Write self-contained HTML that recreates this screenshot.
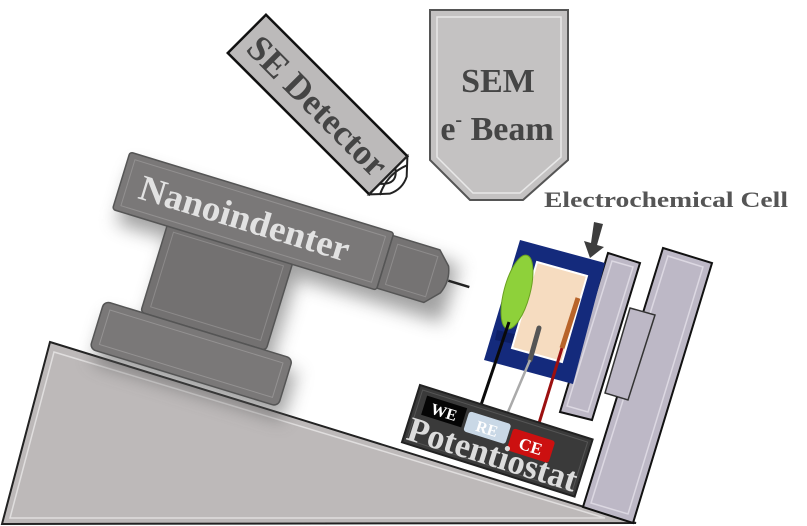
<!DOCTYPE html>
<html><head><meta charset="utf-8"><style>
html,body{margin:0;padding:0;background:#fff;width:807px;height:526px;overflow:hidden}
svg{display:block}
text{font-family:"Liberation Serif",serif;font-weight:bold}
</style></head><body>
<svg width="807" height="526" viewBox="0 0 807 526" xmlns="http://www.w3.org/2000/svg">
<defs>
<filter id="sh" x="-30%" y="-30%" width="160%" height="160%"><feGaussianBlur stdDeviation="9"/></filter>
</defs>
<!-- base -->
<polygon points="50,342 636,523 2,524" fill="#bdb9b9" stroke="#222" stroke-width="2"/>
<polygon points="54,352 605,518 10,518" fill="none" stroke="#e0dede" stroke-width="1.5"/>

<!-- SE detector -->
<g transform="translate(319,106) rotate(45)">
<rect x="-102" y="-27" width="200" height="54" fill="#bcbaba" stroke="#111" stroke-width="2.5"/>
<path d="M98,-27 L112,-12 Q118,0 112,12 L98,27 Z" fill="#fff" stroke="#222" stroke-width="2"/>
<path d="M98,-10 Q112,0 98,12 M104,-20 Q96,0 106,20" fill="none" stroke="#222" stroke-width="2"/>
<text x="-92" y="13" font-size="36" fill="#444" textLength="182" lengthAdjust="spacingAndGlyphs">SE Detector</text>
</g>

<!-- SEM -->
<polygon points="430,10 568,10 568,160 523,200 470,200 430,160" fill="#c4c2c2" stroke="#555" stroke-width="2"/>
<polygon points="437,17 561,17 561,157 520,193 473,193 437,157" fill="none" stroke="#e8e8e8" stroke-width="1.5"/>
<text x="498" y="92" text-anchor="middle" font-size="34" fill="#454545">SEM</text>
<text x="497" y="140" text-anchor="middle" font-size="34" fill="#454545">e<tspan font-size="20" dy="-14">-</tspan><tspan dy="14"> Beam</tspan></text>

<!-- nanoindenter -->
<g transform="translate(130,152) rotate(17)">
<g filter="url(#sh)" opacity="0.55" transform="translate(8,12)">
<rect x="0" y="0" width="340" height="60" fill="#555"/>
<rect x="57" y="60" width="131" height="90" fill="#555"/>
<rect x="18" y="150" width="198" height="50" fill="#555"/>
</g>
<rect x="57" y="56" width="131" height="94" rx="4" fill="#737171" stroke="#555" stroke-width="1.5"/>
<rect x="65" y="64" width="115" height="78" fill="none" stroke="#8c8a8a" stroke-width="1"/>
<rect x="19" y="150" width="197" height="50" rx="6" fill="#7a7878" stroke="#555" stroke-width="1.5"/>
<rect x="27" y="157" width="181" height="36" fill="none" stroke="#949292" stroke-width="1"/>
<rect x="0" y="0" width="276" height="60" rx="3" fill="#7a7878" stroke="#555" stroke-width="1.5"/>
<rect x="7" y="6" width="262" height="48" fill="none" stroke="#929090" stroke-width="1"/>
<path d="M276,3 L325,3 L338,16 Q344,30 338,44 L325,58 L276,58 Z" fill="#757373" stroke="#555" stroke-width="1.5"/>
<rect x="283" y="10" width="42" height="42" fill="none" stroke="#8e8c8c"/>
<line x1="342" y1="30" x2="364" y2="30" stroke="#222" stroke-width="2.5"/>
<text x="20" y="42" font-size="36" fill="#e2e2e2" textLength="218" lengthAdjust="spacingAndGlyphs">Nanoindenter</text>
</g>

<!-- plates -->
<polygon points="663,248 712,263 633,523 583,507" fill="#bdb8c6" stroke="#111" stroke-width="2"/>
<polygon points="668,256 703,267 628,514 591,503" fill="none" stroke="#dcd8e2" stroke-width="1.5"/>
<polygon points="630,308 655,315 628,400 605,393" fill="#bdb8c6" stroke="#333" stroke-width="1.5"/>
<polygon points="608,253 640,263 592,420 560,412" fill="#bdb8c6" stroke="#111" stroke-width="2"/>
<polygon points="612,261 633,267 588,412 567,406" fill="none" stroke="#dcd8e2" stroke-width="1.5"/>

<!-- cell -->
<polygon points="520,240 605,263 573,384 484,360" fill="#142a7c"/>
<polygon points="497,330 522,336 519,345 495,340" fill="#0d1f66"/>
<polygon points="537,262 587,276 562,362 512,348" fill="#f6dcc0" stroke="#fff" stroke-width="2"/>
<ellipse cx="517" cy="292" rx="13" ry="38" transform="rotate(15 517 292)" fill="#8ed13a" stroke="#6aa020"/>
<line x1="578" y1="298" x2="562" y2="348" stroke="#b8642a" stroke-width="5"/>
<line x1="562" y1="348" x2="536" y2="433" stroke="#9c1010" stroke-width="3"/>
<line x1="539" y1="328" x2="530" y2="360" stroke="#555" stroke-width="5" stroke-linecap="round"/>
<line x1="530" y1="360" x2="508" y2="412" stroke="#aaa" stroke-width="2.5"/>
<line x1="509" y1="322" x2="480" y2="408" stroke="#0a0a0a" stroke-width="3"/>

<!-- arrow -->
<polygon points="594,222 603,224 597,245 604,247 590,258 584,241 591,243" fill="#3d3d3d"/>
<text x="544" y="207" font-size="22" fill="#555" textLength="244" lengthAdjust="spacingAndGlyphs">Electrochemical Cell</text>

<!-- potentiostat -->
<g transform="translate(420,385) rotate(17.5)">
<rect x="0" y="0" width="181" height="60" fill="#3a3a3a" stroke="#222" stroke-width="2"/>
<rect x="4" y="4" width="173" height="52" fill="none" stroke="#555" stroke-width="1"/>
<rect x="10" y="8" width="42" height="20" fill="#050505"/>
<text x="31" y="24" text-anchor="middle" font-size="16" fill="#fff">WE</text>
<rect x="55" y="10" width="44" height="21" rx="3" fill="#c9d8e6"/>
<text x="77" y="27" text-anchor="middle" font-size="16" fill="#fff">RE</text>
<rect x="102" y="13" width="44" height="23" rx="3" fill="#cc1010"/>
<text x="124" y="31" text-anchor="middle" font-size="17" fill="#fff">CE</text>
<text x="2" y="56" font-size="35" fill="#dcdcdc" textLength="176" lengthAdjust="spacingAndGlyphs">Potentiostat</text>
</g>
</svg>
</body></html>
